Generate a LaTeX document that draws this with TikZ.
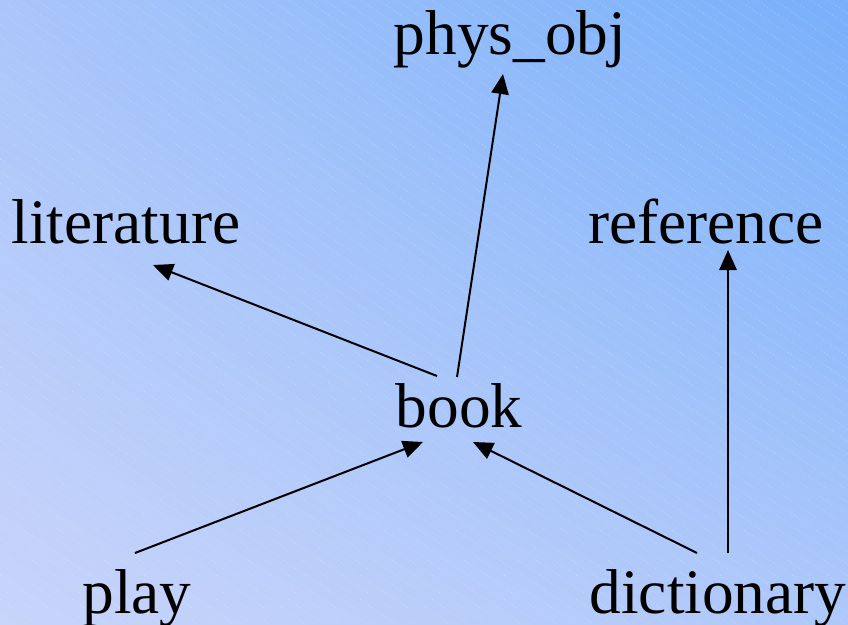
\documentclass[tikz,border=0pt]{standalone}
\usepackage{fontspec}
\setmainfont{Liberation Serif}
\usetikzlibrary{arrows.meta, calc, shadings}
\definecolor{bgll}{HTML}{C8D4FA}
\definecolor{bglr}{HTML}{AEC8FA}
\definecolor{bgul}{HTML}{AAC6FA}
\definecolor{bgur}{HTML}{78B0FA}
\tikzset{
    word/.style={
        anchor=base, inner sep=0pt,
        font=\fontsize{47.5}{57}\selectfont
    },
    isa/.style={
        -{Triangle[length=15pt, width=13pt]}, line width=1.5pt, color=black
    },
    stripe/.style={
        white, opacity=0.35, line width=0.5pt, dotted
    }
}

\begin{document}
\begin{tikzpicture}[x=0.75pt, y=-0.75pt]

    % Background
    \useasboundingbox (0,0) rectangle (848,624);
    \shade[upper left=bgul, upper right=bgur, lower left=bgll, lower right=bglr]
        (0,624) rectangle (848,0);
    \begin{scope}
        \clip (0,0) rectangle (848,624);
        \foreach \x in {-918,-900,...,848}
            \draw[stripe] (\x,0) -- ++(918,624);
    \end{scope}

    % Nodes
    \node[word] (physobj) at (510,55) {phys\_obj};
    \node[word] (literature) at (126,243) {literature};
    \node[word] (reference) at (706,243) {reference};
    \node[word] (book) at (459,427) {book};
    \node[word] (play) at (137,613) {play};
    \node[word] (dictionary) at (718,613) {dictionary};

    % Edges
    \draw[isa] ($(book.base)+(-22,-51)$) -- ($(literature.base)+(27,22)$);
    \draw[isa] ($(book.base)+(-2,-50)$) -- ($(physobj.base)+(-7,19)$);
    \draw[isa] ($(play.base)+(-2,-60)$) -- ($(book.base)+(-36,15)$);
    \draw[isa] ($(dictionary.base)+(-21,-60)$) -- ($(book.base)+(14,15)$);
    \draw[isa] ($(dictionary.base)+(10,-60)$) -- ($(reference.base)+(22,7)$);

\end{tikzpicture}
\end{document}
